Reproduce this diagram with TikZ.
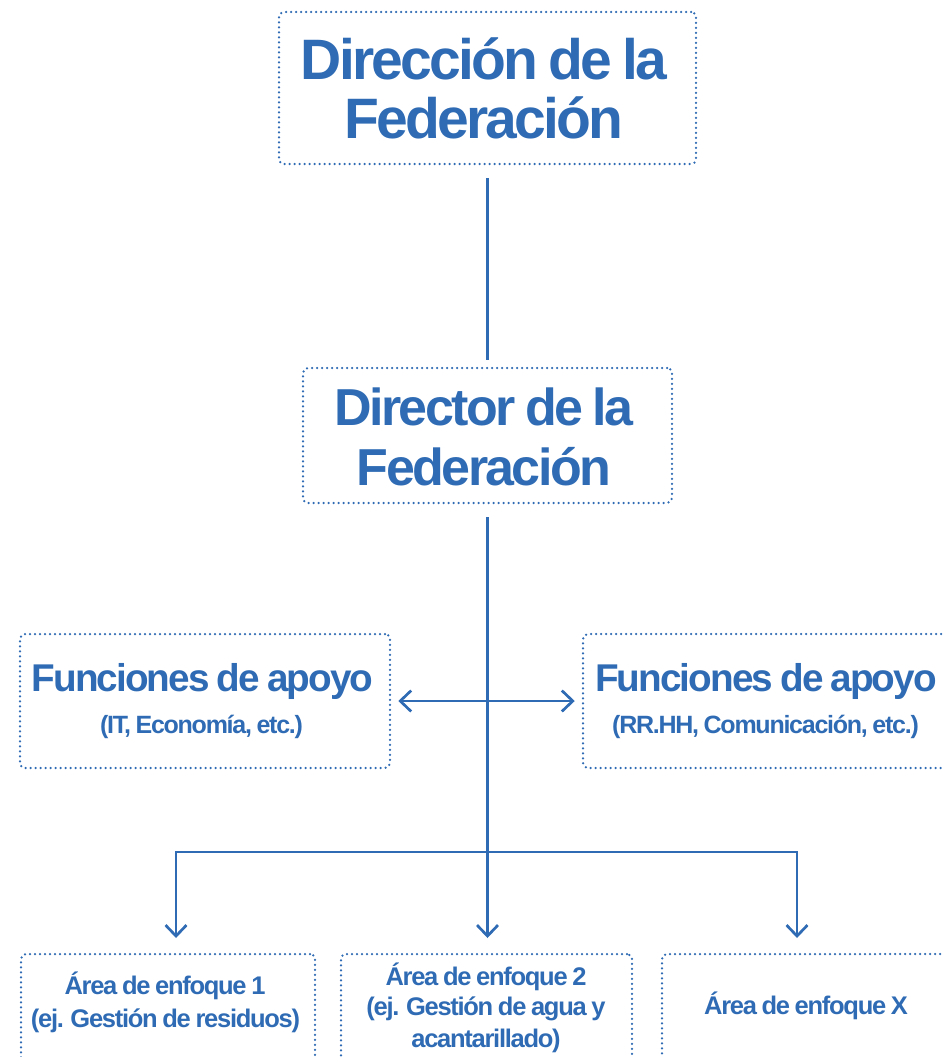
\documentclass[tikz,border=0pt]{standalone}
\usepackage{fontspec}
\newfontfamily\tightfont{Liberation Sans}[LetterSpace=-5,WordSpace=0.8]
\usetikzlibrary{arrows.meta}
\definecolor{fedblue}{RGB}{46,107,180}
\begin{document}
\begin{tikzpicture}[x=1pt,y=-1pt,
  box/.style={draw=fedblue, line width=2.5pt, dash pattern=on 0pt off 5pt,
    line cap=round, rounded corners=5pt, inner sep=0pt},
  txt/.style={text=fedblue, anchor=base, inner sep=0pt},
  tA/.style={txt, font=\tightfont\bfseries\fontsize{57}{60}\selectfont},
  tB/.style={txt, font=\tightfont\bfseries\fontsize{52}{60}\selectfont},
  tC/.style={txt, font=\tightfont\bfseries\fontsize{38.7}{44}\selectfont},
  tD/.style={txt, font=\tightfont\bfseries\fontsize{25}{30}\selectfont},
  tE/.style={txt, font=\tightfont\bfseries\fontsize{25.5}{30}\selectfont},
  link/.style={draw=fedblue, line width=2.7pt},
  tipstyle/.style={-{Straight Barb[length=11pt,width=21pt]}}
]
\useasboundingbox (0,0) rectangle (942,1057);

% boxes
\node[box, minimum width=417pt, minimum height=152pt] (dir) at (487.5,88) {};
\node[tA] (dir1) at (484,80) {Dirección de la};
\node[tA] (dir2) at (484,138) {Federación};

\node[box, minimum width=369pt, minimum height=135pt] (dtr) at (487.5,435.5) {};
\node[tB] (dtr1) at (484,425) {Director de la};
\node[tB] (dtr2) at (484,485) {Federación};

\node[box, minimum width=370pt, minimum height=134pt] (fl) at (205,701) {};
\node[tC] (fl1) at (202.5,691) {Funciones de apoyo};
\node[tD] (fl2) at (201.5,733) {(IT, Economía, etc.)};

\node[box, minimum width=368pt, minimum height=134pt] (fr) at (767,701) {};
\node[tC] (fr1) at (766,691) {Funciones de apoyo};
\node[tD] (fr2) at (765.5,733) {(RR.HH, Comunicación, etc.)};

\node[box, minimum width=294pt, minimum height=130pt] (aA) at (168,1019) {};
\node[tE] (aA1) at (165,994) {Área de enfoque 1};
\node[tE] (aA2) at (165.5,1027) {(ej. Gestión de residuos)};

\node[box, minimum width=291pt, minimum height=130pt] (aB) at (486.5,1019) {};
\node[tE] (aB1) at (486,985) {Área de enfoque 2};
\node[tE] (aB2) at (486,1015) {(ej. Gestión de agua y};
\node[tE] (aB3) at (486,1047) {acantarillado)};

\node[box, minimum width=288pt, minimum height=130pt] (aC) at (806,1019) {};
\node[tE] (aC1) at (806,1014) {Área de enfoque X};

% connector coordinates
\coordinate (split) at (487.5,852);
\coordinate (tipA) at (176,938);
\coordinate (tipB) at (487.5,938);
\coordinate (tipC) at (797,938);

% connectors
\draw[link, shorten <=13pt, shorten >=7pt] (dir.south) -- (dtr.north);
\draw[link, tipstyle, shorten <=13pt] (dtr.south) -- (tipB);
\draw[link, {Straight Barb[length=11pt,width=21pt]}-{Straight Barb[length=11pt,width=21pt]},
      shorten <=7pt, shorten >=7pt] (fl.east) -- (fr.west);
\draw[link, tipstyle] (split) -| (tipA);
\draw[link, tipstyle] (split) -| (tipC);
\end{tikzpicture}
\end{document}
